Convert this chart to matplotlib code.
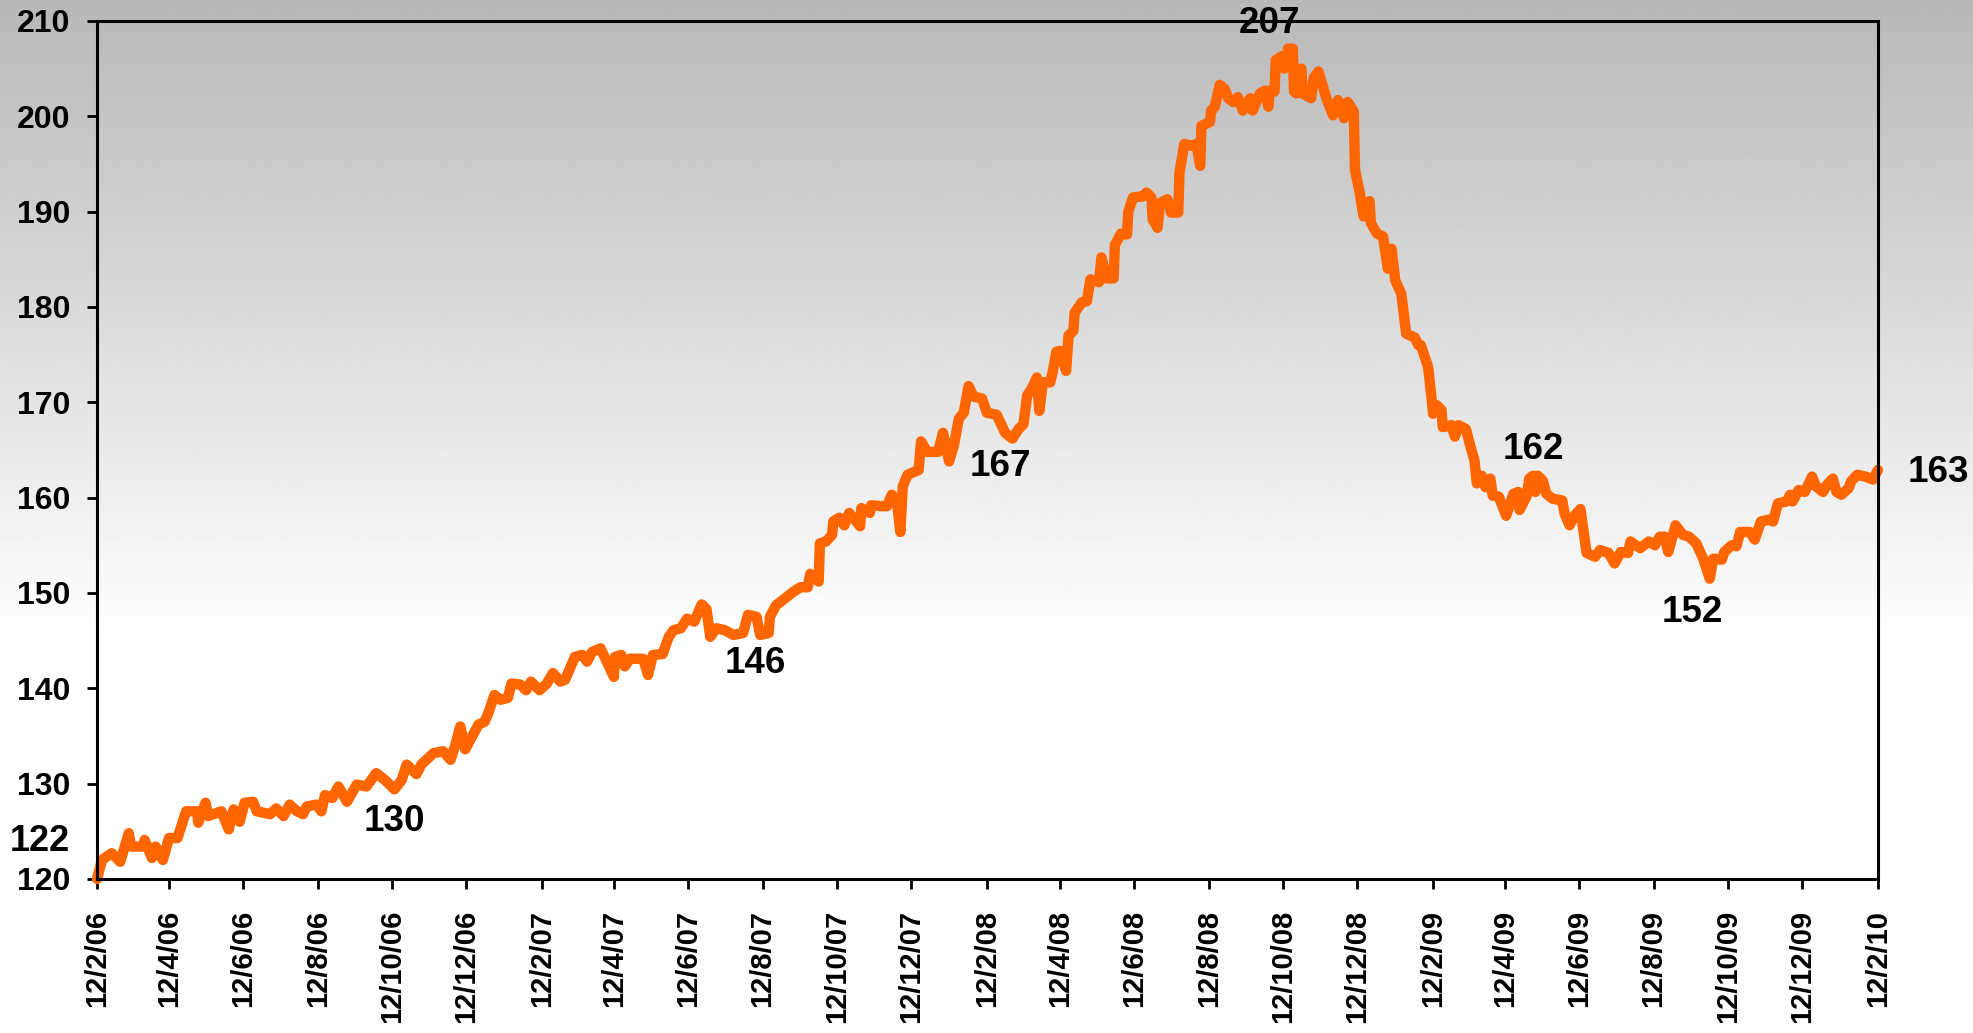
import numpy as np
import pandas as pd
import matplotlib
matplotlib.use('Agg')
import matplotlib.pyplot as plt
from matplotlib import font_manager

plt.rcParams['font.family'] = ['Liberation Sans', 'DejaVu Sans']
plt.rcParams['font.weight'] = 'bold'

# data: days after 12 Feb 2006, index value
start = pd.Timestamp('2006-02-12')
days = [0, 4, 12, 19, 26, 28, 38, 39, 45, 48, 54, 59, 66, 73, 82, 83, 89, 91, 102, 108,
        112, 117, 121, 128, 131, 142, 147, 153, 158, 164, 169, 172, 180, 184, 187, 193, 198, 205, 213, 221,
        229, 236, 244, 250,
        254, 262, 266, 276, 284, 290, 294, 298, 302, 307, 313, 318, 321, 326, 331, 337, 340, 347, 352, 356,
        363, 369, 374, 380, 384, 388, 392, 398, 402, 406, 413, 417, 424, 425, 430, 433, 437, 448, 452, 456,
        464, 469, 473, 479, 484, 490, 496, 500, 503, 508,
        515, 522, 530, 534, 541, 544, 551, 552, 557, 564, 571, 577, 583, 585, 592, 593, 598, 603, 604, 609,
        613, 617, 626, 627, 634, 635, 644, 648, 652, 656, 659, 661, 665, 674, 676, 681, 690, 694, 699, 703,
        707, 711, 715, 719, 726, 730, 738, 742, 745, 751,
        756, 760, 763, 767, 771, 773, 776, 782, 784, 787, 790, 795, 797, 801, 802, 808, 812, 815, 822, 824,
        828, 834, 835, 840, 845, 846, 850, 858, 861, 865, 866, 870, 872, 878, 881, 887, 888, 892, 898, 902,
        905, 906, 913, 914, 917, 921, 925, 928, 932, 936, 940, 946, 948, 954, 958, 961, 962, 966, 967, 972,
        974, 977, 981, 982, 984, 988, 989, 996, 998, 1002,
        1009, 1014, 1018, 1023, 1026, 1031, 1032, 1036, 1039, 1044, 1045, 1050, 1055, 1058, 1059, 1062,
        1065, 1070, 1074, 1081, 1084, 1086, 1092, 1095, 1096, 1099, 1103, 1104, 1111, 1114, 1117, 1123,
        1126, 1130, 1132, 1136, 1139, 1143, 1145, 1150, 1156, 1162, 1166, 1167, 1173, 1175, 1178, 1180,
        1182, 1186, 1189, 1194, 1202, 1204, 1208, 1212, 1217,
        1222, 1229, 1233, 1240, 1245, 1250, 1256, 1258, 1266, 1273, 1278, 1282, 1286, 1289, 1295, 1301,
        1306, 1312, 1318, 1323, 1326, 1333, 1335, 1341, 1345, 1348, 1356, 1360, 1365, 1372, 1375, 1379,
        1386, 1389, 1391, 1396, 1401, 1407, 1410, 1416, 1419, 1424, 1427, 1431, 1437, 1439, 1444, 1451,
        1457, 1461]
values = [120.0, 122.0, 122.7, 121.8, 124.8, 123.4, 123.4, 124.1, 122.2, 123.4, 122.0, 124.3, 124.3, 127.1,
          127.1, 125.9, 128.0, 126.6, 127.1, 125.2, 127.3, 126.0, 128.0, 128.1, 127.1, 126.8, 127.4, 126.6,
          127.8, 127.1, 126.8, 127.6, 127.8, 127.1, 128.8, 128.5, 129.7, 128.1, 129.9, 129.7, 131.1, 130.4,
          129.4, 130.4,
          132.0, 131.0, 132.0, 133.2, 133.4, 132.5, 134.1, 136.0, 133.6, 134.8, 136.2, 136.5, 137.4, 139.3,
          138.8, 139.0, 140.5, 140.4, 139.8, 140.7, 139.8, 140.5, 141.6, 140.7, 140.9, 142.1, 143.3, 143.5,
          142.8, 143.8, 144.2, 143.1, 141.2, 143.3, 143.5, 142.3, 143.1, 143.1, 141.4, 143.5, 143.6, 145.4,
          146.1, 146.3, 147.3, 147.0, 148.8, 148.3, 145.4, 146.3,
          146.1, 145.6, 145.8, 147.7, 147.5, 145.6, 145.8, 147.5, 148.7, 149.4, 150.1, 150.6, 150.6, 152.0,
          151.2, 155.2, 155.4, 156.1, 157.5, 157.9, 157.1, 158.4, 157.0, 158.9, 158.4, 159.2, 159.1, 159.1,
          160.3, 159.8, 156.4, 161.2, 162.4, 162.9, 165.9, 164.8, 164.8, 166.8, 163.8, 165.5, 168.3, 168.9,
          171.7, 170.6, 170.4, 168.9, 168.7, 167.6, 166.8, 166.2,
          167.2, 167.7, 170.7, 171.5, 172.6, 169.1, 172.1, 172.1, 173.2, 175.3, 175.4, 173.3, 177.0, 177.5,
          179.4, 180.5, 180.6, 182.9, 182.6, 185.2, 183.0, 183.0, 186.5, 187.7, 187.6, 190.0, 191.5, 191.6,
          192.0, 191.5, 189.2, 188.3, 190.9, 191.3, 189.9, 189.9, 194.1, 197.1, 196.9, 197.1, 194.8, 199.0,
          199.4, 200.6, 201.0, 203.3, 202.9, 201.9, 201.5, 202.0, 200.6, 201.9, 200.6, 202.4, 202.7, 201.0,
          202.7, 202.6, 205.9, 206.3, 205.0, 207.1, 207.1, 202.6, 202.4, 205.0, 202.4, 201.9, 204.0, 204.7,
          201.7, 200.1, 201.7, 199.8, 201.5, 200.5, 194.4, 191.9, 189.5, 191.1, 188.8, 187.7, 187.4, 184.9,
          184.0, 186.1, 182.8, 181.4, 177.2, 176.8, 176.0, 176.0, 173.7, 170.2, 168.8, 169.7, 169.2, 167.4,
          167.6, 166.4, 167.6, 167.2, 165.7, 163.9, 161.5, 162.3, 161.1, 162.0, 160.2, 160.1, 158.1, 160.4,
          160.6, 158.7, 160.2, 162.0, 162.3, 160.6, 162.3, 161.8, 160.4, 159.9, 159.7, 158.3, 157.1, 158.1,
          158.8,
          154.2, 153.8, 154.5, 154.2, 153.1, 154.3, 154.2, 155.4, 154.7, 155.4, 155.0, 155.9, 155.9, 154.3,
          157.1, 156.1, 155.9, 155.2, 153.5, 151.5, 153.6, 153.5, 154.3, 155.0, 154.9, 156.4, 156.4, 155.6,
          157.5, 157.7, 157.5, 159.4, 159.6, 160.3, 159.6, 160.8, 160.6, 162.2, 161.2, 160.6, 161.3, 162.0,
          160.6, 160.3, 161.0, 161.7, 162.4, 162.2, 161.9, 162.9]

tick_labels = ['12/2/06', '12/4/06', '12/6/06', '12/8/06', '12/10/06', '12/12/06',
               '12/2/07', '12/4/07', '12/6/07', '12/8/07', '12/10/07', '12/12/07',
               '12/2/08', '12/4/08', '12/6/08', '12/8/08', '12/10/08', '12/12/08',
               '12/2/09', '12/4/09', '12/6/09', '12/8/09', '12/10/09', '12/12/09', '12/2/10']
y_ticks = [120, 130, 140, 150, 160, 170, 180, 190, 200, 210]

# point labels: (days after start, value, text)
label_days = [244, 540, 741, 962, 1178, 1309]
label_vals = [126.0, 142.6, 163.3, 209.7, 165.0, 147.9]
label_text = ['130', '146', '167', '207', '162', '152']

dates = start + pd.to_timedelta(days, unit='D')
tick_dates = pd.to_datetime(tick_labels, format='%d/%m/%y')

# the date labels in the original are a condensed face
try:
    font_manager.findfont(font_manager.FontProperties(family='Liberation Sans Narrow', weight='bold'),
                          fallback_to_default=False)
    xfont, xsize = ['Liberation Sans Narrow', 'DejaVu Sans'], 25.5
except ValueError:
    xfont, xsize = ['Liberation Sans', 'DejaVu Sans'], 21

fig = plt.figure(figsize=(19.73, 10.33), dpi=100)

# grey-to-white background behind everything
bg = fig.add_axes([0, 0, 1, 1], zorder=-1)
grad = np.clip(184 + (255 - 184) * np.linspace(0, 1, 500) / 0.62, 0, 255) / 255.0
bg.imshow(grad[:, None], aspect='auto', cmap='gray', vmin=0, vmax=1, extent=[0, 1, 0, 1])
bg.axis('off')

ax = fig.add_axes([0.0492, 0.1491, 0.9026, 0.8306])
ax.set_facecolor('none')
ax.plot(dates, values, color='#ff6600', lw=7.5, solid_joinstyle='round',
        solid_capstyle='round', clip_on=False)

ax.set_xlim(tick_dates[0], tick_dates[-1])
ax.set_ylim(120, 210)
ax.set_xticks(tick_dates)
ax.set_xticklabels(tick_labels, rotation=90, fontsize=xsize, fontweight='bold', family=xfont)
ax.set_yticks(y_ticks)
ax.set_yticklabels([str(v) for v in y_ticks], fontsize=23, fontweight='bold')
ax.tick_params(axis='x', direction='out', length=7, width=2, pad=15)
ax.tick_params(axis='y', direction='out', length=7, width=2, pad=12)
for s in ax.spines.values():
    s.set_linewidth(2.2)
    s.set_color('black')

for d, v, t in zip(label_days, label_vals, label_text):
    ax.text(start + pd.Timedelta(days=d), v, t, fontsize=26.5, fontweight='bold',
            ha='center', va='center')

# start and end values outside the axes
ax.text(-0.032, 123.9, '122', transform=ax.get_yaxis_transform(), fontsize=26,
        fontweight='bold', ha='center', va='center')
ax.text(1.0337, 162.6, '163', transform=ax.get_yaxis_transform(), fontsize=26.5,
        fontweight='bold', ha='center', va='center')

fig.savefig('out.png', dpi=100)
